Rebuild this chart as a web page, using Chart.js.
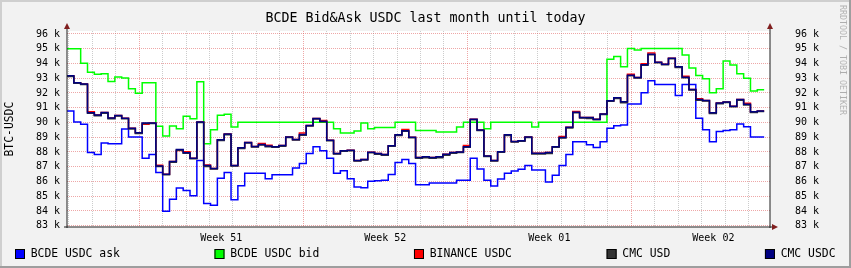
<!DOCTYPE html>
<html>
<head>
<meta charset="utf-8">
<script src="https://cdn.jsdelivr.net/npm/chart.js@4.4.1/dist/chart.umd.min.js"></script>
<style>
html, body { margin: 0; padding: 0; background: #f2f2f2; }
#wrap { width: 851px; height: 268px; position: relative; }
</style>
</head>
<body>
<div id="wrap"><canvas id="chart"></canvas></div>
<script>
// time axis in hours since the start of the graph, one value every 7 hours
const stepHours = 7;
const rangeHours = 720;
const firstMidnight = 2;
const weekStarts = [74, 242, 410, 578];
const weekLabels = ['Week 51', 'Week 52', 'Week 01', 'Week 02'];
const yLabelValues = [83, 84, 85, 86, 87, 88, 89, 90, 91, 92, 93, 94, 95, 96];

const seriesNames = ['BCDE USDC ask', 'BCDE USDC bid', 'BINANCE USDC', 'CMC USD', 'CMC USDC'];
const seriesColors = ['#0000ff', '#00ff00', '#ff0000', '#333333', '#000080'];

// values in thousands of USDC
const askValues = [
  90.78, 90.03, 89.88, 87.96, 87.82, 88.6, 88.56, 88.56, 89.55, 89.02,
  89.02, 87.58, 87.82, 86.6, 83.98, 84.8, 85.56, 85.38, 85.04, 87.42,
  84.51, 84.38, 86.22, 86.6, 84.76, 85.71, 86.56, 86.56, 86.56, 86.18,
  86.45, 86.45, 86.45, 86.92, 87.21, 87.9, 88.35, 88.09, 87.58, 86.56,
  86.72, 86.19, 85.63, 85.58, 86.01, 86.05, 86.08, 86.48, 87.28, 87.49,
  87.21, 85.77, 85.77, 85.9, 85.9, 85.9, 85.9, 86.08, 86.08, 87.57,
  86.84, 86.09, 85.7, 86.16, 86.55, 86.71, 86.82, 87.09, 86.77, 86.77,
  85.96, 86.42, 87.09, 87.82, 88.69, 88.69, 88.49, 88.3, 88.69, 89.6,
  89.78, 89.82, 91.25, 91.25, 92.02, 92.82, 92.58, 92.58, 92.58, 91.82,
  92.58, 92.58, 90.29, 89.51, 88.69, 89.38, 89.45, 89.51, 89.89, 89.71,
  89.02, 89.02
];
const bidValues = [
  95.0, 95.0, 94.02, 93.4, 93.27, 93.31, 92.78, 93.09, 93.02, 92.29,
  91.98, 92.69, 92.69, 89.74, 89.09, 89.76, 89.58, 90.42, 90.25, 92.76,
  88.56, 89.51, 90.49, 90.56, 89.69, 90.02, 90.02, 90.02, 90.02, 90.02,
  90.02, 90.02, 90.02, 90.02, 90.02, 90.02, 90.02, 90.02, 90.02, 89.58,
  89.29, 89.29, 89.42, 89.96, 89.58, 89.65, 89.65, 89.65, 90.02, 90.02,
  90.02, 89.45, 89.45, 89.45, 89.36, 89.36, 89.36, 89.69, 90.02, 90.02,
  90.02, 89.58, 90.02, 90.02, 90.02, 90.02, 90.02, 90.02, 89.69, 90.02,
  90.02, 90.02, 90.02, 90.02, 90.02, 90.02, 90.02, 90.02, 90.02, 94.29,
  94.47, 93.78, 95.02, 94.91, 95.02, 95.02, 95.02, 95.02, 95.02, 95.02,
  94.58, 93.69, 93.18, 92.96, 92.02, 92.29, 94.16, 93.89, 93.31, 93.0,
  92.14, 92.22
];
const binanceValues = [
  93.16, 92.7, 92.61, 90.72, 90.5, 90.67, 90.3, 90.48, 90.29, 89.6,
  89.3, 89.88, 89.97, 87.1, 86.49, 87.35, 88.1, 88.01, 87.58, 90.03,
  87.12, 86.88, 88.82, 89.21, 87.09, 88.28, 88.64, 88.37, 88.57, 88.45,
  88.36, 88.43, 89.02, 88.85, 89.29, 89.8, 90.27, 90.14, 88.8, 87.9,
  88.09, 88.12, 87.42, 87.49, 87.98, 87.89, 87.82, 88.42, 89.16, 89.52,
  89.0, 87.62, 87.67, 87.62, 87.67, 87.84, 87.96, 88.0, 88.43, 90.22,
  89.49, 87.73, 87.42, 88.02, 89.16, 88.71, 88.76, 89.02, 87.91, 87.91,
  87.96, 88.36, 89.04, 89.67, 90.75, 90.34, 90.34, 90.22, 90.58, 91.47,
  91.67, 91.4, 93.27, 93.05, 93.98, 94.71, 94.09, 93.95, 94.36, 93.77,
  93.13, 92.24, 91.61, 91.49, 90.65, 91.32, 91.39, 91.1, 91.55, 91.31,
  90.72, 90.78
];
const cmcUsdValues = [
  93.12, 92.66, 92.57, 90.62, 90.46, 90.63, 90.26, 90.44, 90.25, 89.56,
  89.26, 89.93, 89.93, 87.01, 86.45, 87.31, 88.12, 87.91, 87.54, 89.99,
  87.02, 86.84, 88.78, 89.17, 87.05, 88.24, 88.6, 88.33, 88.47, 88.36,
  88.32, 88.39, 88.98, 88.81, 89.14, 89.76, 90.23, 90.05, 88.76, 87.86,
  88.05, 88.08, 87.38, 87.45, 87.94, 87.85, 87.78, 88.38, 89.12, 89.4,
  88.96, 87.58, 87.6, 87.58, 87.6, 87.78, 87.92, 87.96, 88.32, 90.18,
  89.45, 87.69, 87.38, 87.98, 89.12, 88.67, 88.72, 88.98, 87.87, 87.87,
  87.9, 88.32, 88.94, 89.63, 90.65, 90.3, 90.27, 90.18, 90.54, 91.43,
  91.63, 91.34, 93.16, 93.01, 93.87, 94.59, 94.05, 93.91, 94.32, 93.73,
  93.03, 92.2, 91.51, 91.45, 90.61, 91.26, 91.35, 91.06, 91.51, 91.19,
  90.68, 90.74
];
const cmcUsdcValues = [
  93.16, 92.7, 92.61, 90.66, 90.5, 90.67, 90.3, 90.48, 90.29, 89.6,
  89.3, 89.97, 89.97, 87.05, 86.49, 87.35, 88.16, 87.95, 87.58, 90.03,
  87.08, 86.88, 88.82, 89.21, 87.09, 88.28, 88.64, 88.37, 88.51, 88.4,
  88.36, 88.43, 89.02, 88.85, 89.18, 89.8, 90.27, 90.09, 88.8, 87.9,
  88.09, 88.12, 87.42, 87.49, 87.98, 87.89, 87.82, 88.42, 89.16, 89.44,
  89.0, 87.62, 87.67, 87.62, 87.67, 87.84, 87.96, 88.0, 88.36, 90.22,
  89.49, 87.73, 87.42, 88.02, 89.16, 88.71, 88.76, 89.02, 87.91, 87.91,
  87.96, 88.36, 88.98, 89.67, 90.69, 90.34, 90.34, 90.22, 90.58, 91.47,
  91.67, 91.4, 93.2, 93.05, 93.91, 94.63, 94.09, 93.95, 94.36, 93.77,
  93.07, 92.24, 91.55, 91.49, 90.65, 91.32, 91.39, 91.1, 91.55, 91.23,
  90.72, 90.78
];
const seriesValues = [askValues, bidValues, binanceValues, cmcUsdValues, cmcUsdcValues];

const FONT = '"DejaVu Sans Mono", "Liberation Mono", monospace';
const gridMinor = 'rgba(143,143,143,0.45)';
const gridMajor = 'rgba(222,79,79,0.5)';

function steps(values) {
    const pts = values.map(function (v, i) { return { x: i * stepHours, y: v }; });
    pts.push({ x: values.length * stepHours, y: values[values.length - 1] });
    return pts;
}

function xTicks(scale) {
    const ticks = [];
    for (let h = firstMidnight; h < rangeHours; h += 24) {
        ticks.push({ value: h, kind: weekStarts.includes(h) ? 'week' : 'day' });
    }
    weekStarts.forEach(function (w, i) {
        ticks.push({ value: w + 84, kind: 'label', name: weekLabels[i] });
    });
    ticks.sort(function (a, b) { return a.value - b.value; });
    scale.ticks = ticks;
}

function yTicks(scale) {
    const ticks = [];
    yLabelValues.forEach(function (v, i) {
        ticks.push({ value: v });
        if (i < yLabelValues.length - 1) ticks.push({ value: v + 0.5 });
    });
    scale.ticks = ticks;
}

function yLabel(value) {
    return Number.isInteger(value) ? value + ' k' : '';
}

const frame = {
    id: 'frame',
    beforeDraw(chart) {
        const { ctx, chartArea: a, width, height } = chart;
        ctx.save();
        ctx.fillStyle = '#f2f2f2';
        ctx.fillRect(0, 0, width, height);
        ctx.fillStyle = '#ffffff';
        ctx.fillRect(a.left, a.top, a.right - a.left, a.bottom - a.top);
        ctx.fillStyle = '#cfcfcf';
        ctx.fillRect(0, 0, width, 2);
        ctx.fillRect(0, 0, 2, height);
        ctx.fillStyle = '#9e9e9e';
        ctx.fillRect(0, height - 2, width, 2);
        ctx.fillRect(width - 2, 0, 2, height);
        ctx.restore();
    },
    afterDatasetsDraw(chart) {
        const { ctx, chartArea: a } = chart;
        const left = Math.round(a.left), right = Math.round(a.right), bottom = Math.round(a.bottom);
        const top = Math.round(a.top) - 2;
        ctx.save();
        ctx.strokeStyle = '#1f1f1f';
        ctx.lineWidth = 1;
        ctx.beginPath();
        ctx.moveTo(left, bottom + 1); ctx.lineTo(left, top);
        ctx.moveTo(right, bottom + 1); ctx.lineTo(right, top);
        ctx.moveTo(left - 3, bottom); ctx.lineTo(right + 2, bottom);
        ctx.stroke();
        ctx.fillStyle = '#801f1f';
        [left, right].forEach(function (x) {
            ctx.beginPath();
            ctx.moveTo(x - 3, top);
            ctx.lineTo(x + 3, top);
            ctx.lineTo(x, top - 6);
            ctx.closePath();
            ctx.fill();
        });
        ctx.beginPath();
        ctx.moveTo(right + 2, bottom - 3);
        ctx.lineTo(right + 2, bottom + 3);
        ctx.lineTo(right + 8, bottom);
        ctx.closePath();
        ctx.fill();
        ctx.restore();
    },
    afterDraw(chart) {
        const { ctx, chartArea: a, width } = chart;
        ctx.save();
        ctx.fillStyle = '#000';
        ctx.textBaseline = 'middle';
        ctx.textAlign = 'center';
        ctx.font = '13.3px ' + FONT;
        ctx.fillText('BCDE Bid&Ask USDC last month until today', width / 2, 19);

        ctx.save();
        ctx.font = '11.4px ' + FONT;
        ctx.translate(10, (a.top + a.bottom) / 2);
        ctx.rotate(-Math.PI / 2);
        ctx.fillText('BTC-USDC', 0, 0);
        ctx.restore();

        ctx.save();
        ctx.fillStyle = 'rgba(0,0,0,0.28)';
        ctx.font = '8.3px ' + FONT;
        ctx.translate(842, 60);
        ctx.rotate(Math.PI / 2);
        ctx.fillText('RRDTOOL / TOBI OETIKER', 0, 0);
        ctx.restore();

        // legend, spread over the full width like rrdtool does
        ctx.font = '11.4px ' + FONT;
        ctx.textAlign = 'left';
        const startX = 15, endX = 835.5, boxSize = 10, textGap = 15.7, legendY = 254;
        const widths = seriesNames.map(function (n) { return textGap + ctx.measureText(n).width; });
        const used = widths.reduce(function (s, w) { return s + w; }, 0);
        const gap = (endX - startX - used) / (seriesNames.length - 1);
        let x = startX;
        seriesNames.forEach(function (name, i) {
            ctx.fillStyle = seriesColors[i];
            ctx.fillRect(x, legendY - 5, boxSize, boxSize);
            ctx.strokeStyle = '#000';
            ctx.lineWidth = 1;
            ctx.strokeRect(x + 0.5, legendY - 4.5, boxSize - 1, boxSize - 1);
            ctx.fillStyle = '#000';
            ctx.fillText(name, x + textGap, legendY);
            x += widths[i] + gap;
        });
        ctx.restore();
    }
};

const drawOrder = [5, 4, 3, 2, 1];
const datasets = seriesNames.map(function (name, i) {
    return {
        label: name,
        data: steps(seriesValues[i]),
        borderColor: seriesColors[i],
        backgroundColor: seriesColors[i],
        borderWidth: 1.5,
        stepped: true,
        pointRadius: 0,
        fill: false,
        order: drawOrder[i],
        xAxisID: 'x',
        yAxisID: 'y'
    };
});

new Chart(document.getElementById('chart'), {
    type: 'line',
    data: { datasets: datasets },
    options: {
        responsive: true,
        maintainAspectRatio: false,
        animation: false,
        events: [],
        layout: { padding: { top: 27.7, left: 0, right: 0, bottom: 0 } },
        plugins: {
            legend: { display: false },
            tooltip: { enabled: false },
            title: { display: false }
        },
        scales: {
            x: {
                type: 'linear',
                min: 0,
                max: rangeHours,
                afterBuildTicks: xTicks,
                afterFit: function (s) { s.height = 40.8; },
                grid: {
                    drawTicks: false,
                    color: function (c) {
                        if (!c.tick || c.tick.kind === 'label') return 'rgba(0,0,0,0)';
                        return c.tick.kind === 'week' ? gridMajor : gridMinor;
                    }
                },
                border: { display: false, dash: [1, 1] },
                ticks: {
                    autoSkip: false,
                    maxRotation: 0,
                    padding: 5,
                    color: '#000',
                    font: { family: FONT, size: 10 },
                    callback: function (v, i, ticks) { return ticks[i].name || ''; }
                }
            },
            y: {
                type: 'linear',
                position: 'left',
                min: 82.9,
                max: 96.2,
                afterBuildTicks: yTicks,
                afterFit: function (s) { s.width = 67; },
                grid: {
                    drawTicks: false,
                    color: function (c) {
                        return c.tick && Number.isInteger(c.tick.value) ? gridMajor : gridMinor;
                    }
                },
                border: { display: false, dash: [1, 1] },
                ticks: {
                    padding: 7,
                    color: '#000',
                    font: { family: FONT, size: 10 },
                    callback: yLabel
                }
            },
            y2: {
                type: 'linear',
                position: 'right',
                min: 82.9,
                max: 96.2,
                afterBuildTicks: yTicks,
                afterFit: function (s) { s.width = 81; },
                grid: { display: false, drawTicks: false },
                border: { display: false },
                ticks: {
                    padding: 25,
                    color: '#000',
                    font: { family: FONT, size: 10 },
                    callback: yLabel
                }
            }
        }
    },
    plugins: [frame]
});
</script>
</body>
</html>
